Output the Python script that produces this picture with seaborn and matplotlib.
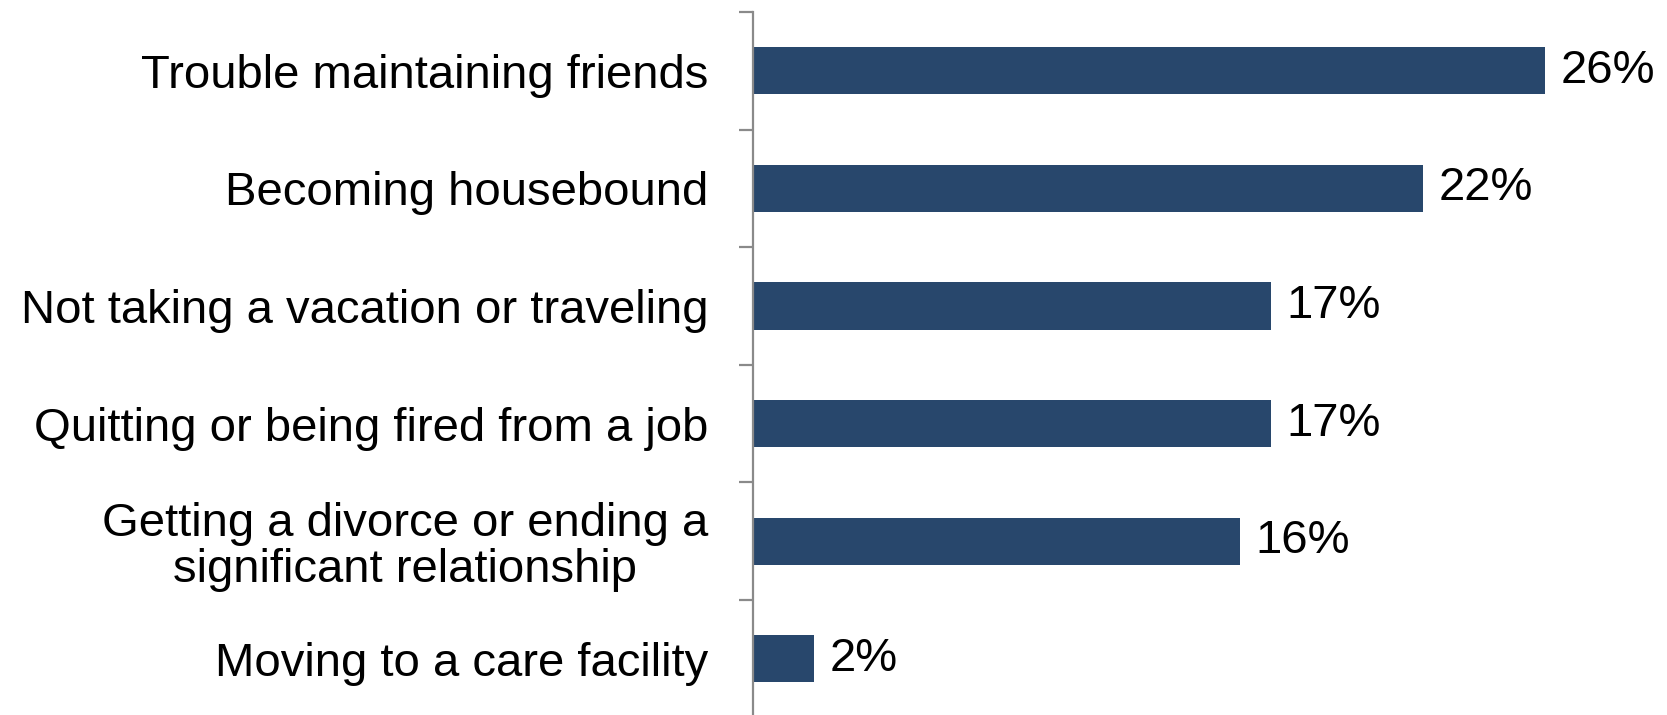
import matplotlib
matplotlib.use("Agg")
import matplotlib.pyplot as plt
import seaborn as sns
import pandas as pd
import numpy as np

categories = [
    "Trouble maintaining friends",
    "Becoming housebound",
    "Not taking a vacation or traveling",
    "Quitting or being fired from a job",
    "Getting a divorce or ending a\nsignificant relationship",
    "Moving to a care facility",
]
values = [26, 22, 17, 17, 16, 2]
value_labels = ["26%", "22%", "17%", "17%", "16%", "2%"]

sns.set_style("white")
plt.rcParams["font.family"] = ["Liberation Sans", "DejaVu Sans"]

df = pd.DataFrame({"category": categories, "value": values})

fig = plt.figure(figsize=(16.67, 7.15), dpi=100)
ax = fig.add_axes([753 / 1667, -2.6 / 715, 1 - 753 / 1667, (715 - 12 + 2.6) / 715])

sns.barplot(data=df, x="value", y="category", orient="h", color="#28476C",
            saturation=1, width=0.40, ax=ax, edgecolor="none")

ax.set_xlim(0, 30)
ax.set_ylim(len(categories) - 0.5, -0.5)
ax.set_xlabel("")
ax.set_ylabel("")
ax.set_xticks([])

for s in ["top", "right", "bottom"]:
    ax.spines[s].set_visible(False)
ax.spines["left"].set_color("#8a8a8a")
ax.spines["left"].set_linewidth(1.6)

# category boundary ticks
ax.set_yticks(np.arange(-0.5, len(categories) + 0.5, 1), minor=True)
ax.tick_params(axis="y", which="minor", length=10, width=1.6, color="#8a8a8a", left=True)
ax.tick_params(axis="y", which="major", length=0, pad=32, labelsize=34, labelcolor="black")

for lab in ax.get_yticklabels():
    lab.set_multialignment("center")
    lab.set_linespacing(1.05)

for i, (v, t) in enumerate(zip(values, value_labels)):
    ax.annotate(t, xy=(v, i), xytext=(11, 0), textcoords="offset points",
                ha="left", va="center", fontsize=34, color="black")

fig.savefig("out.png", dpi=100)
